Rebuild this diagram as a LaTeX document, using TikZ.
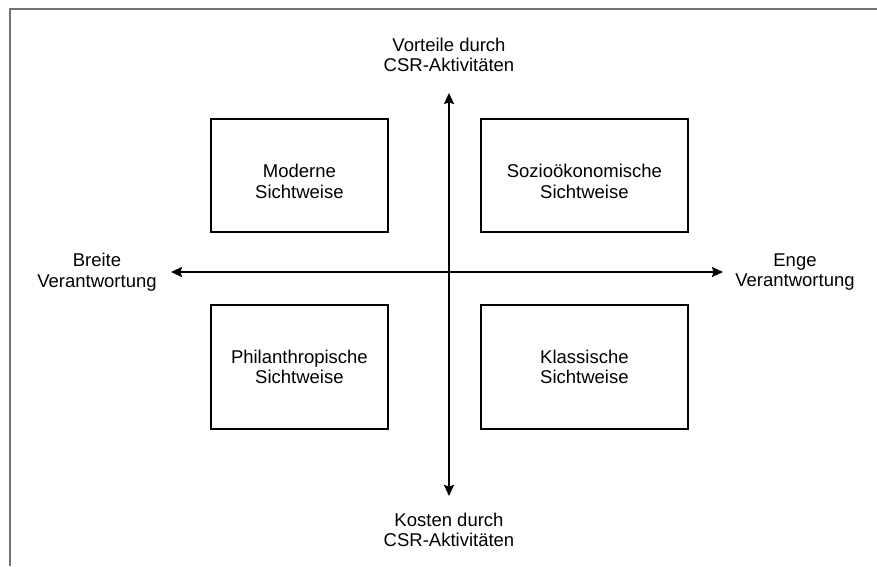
\documentclass[tikz,border=0pt]{standalone}
\usepackage{fontspec}
\setmainfont{Liberation Sans}
\usetikzlibrary{arrows.meta}
% strut that pushes the text block of the upper boxes a little downwards
\newcommand{\lowerstrut}{\rule{0pt}{25pt}}
\begin{document}
\begin{tikzpicture}[x=1pt,y=-1pt,
  labelfont/.style={font=\fontsize{18.5}{20.5}\selectfont},
  view/.style={draw=black,line width=1.8pt,minimum width=177pt,minimum height=113pt,
    inner sep=0pt,align=center,labelfont},
  viewwide/.style={view,minimum width=207pt},
  axislabel/.style={align=center,labelfont,inner sep=0pt},
  axis/.style={line width=1.8pt,{Stealth[length=11pt,width=10pt,inset=1.5pt]}-{Stealth[length=11pt,width=10pt,inset=1.5pt]}}]
  \useasboundingbox (0,0) rectangle (877,566);
  % open frame: top and left edges only
  \draw[line width=2pt,color=black!55] (10,566) -- (10,9) -- (877,9);
  % the four quadrants
  \node[view,anchor=north west,minimum height=113pt] (modern) at (210,118) {\lowerstrut Moderne\\Sichtweise};
  \node[viewwide,anchor=north west,minimum height=113pt] (sozio) at (480,118) {\lowerstrut Sozioökonomische\\Sichtweise};
  \node[view,anchor=north west,minimum height=124pt] (phil) at (210,304) {Philanthropische\\Sichtweise};
  \node[viewwide,anchor=north west,minimum height=124pt] (klass) at (480,304) {Klassische\\Sichtweise};
  % axis labels
  \node[axislabel] (top) at (449,55) {Vorteile durch\\CSR-Aktivitäten};
  \node[axislabel] (bottom) at (449,530) {Kosten durch\\CSR-Aktivitäten};
  \node[axislabel] (left) at (97,272) {Breite\\Verantwortung};
  \node[axislabel] (right) at (795,272) {Enge\\Verantwortung};
  % axis end points
  \coordinate (vtop) at (449,93);
  \coordinate (vbot) at (449,496);
  \coordinate (hl) at (171,272);
  \coordinate (hr) at (723,272);
  \draw[axis] (vtop) -- (vbot);
  \draw[axis] (hl) -- (hr);
\end{tikzpicture}
\end{document}
